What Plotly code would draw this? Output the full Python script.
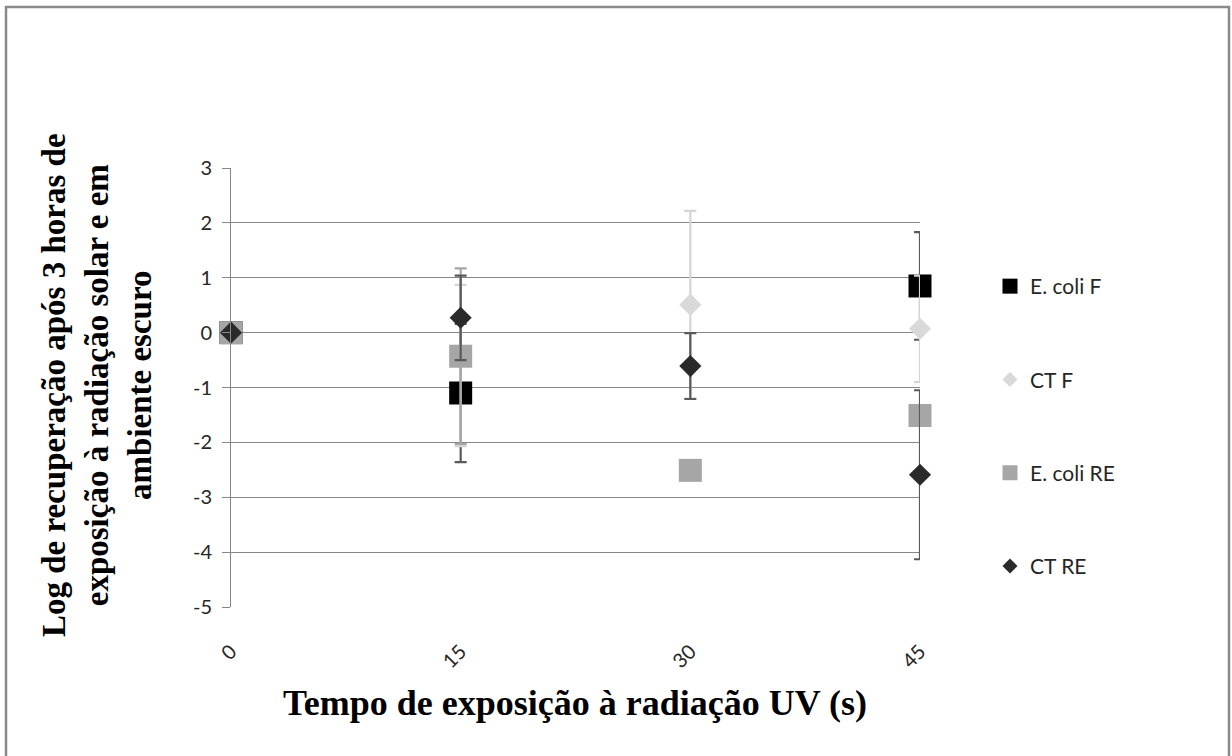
import plotly.graph_objects as go

# ---------------- data ----------------
times = [0, 15, 30, 45]
x_tick_labels = ["0", "15", "30", "45"]
y_tick_vals = [3, 2, 1, 0, -1, -2, -3, -4, -5]
y_tick_labels = ["3", "2", "1", "0", "-1", "-2", "-3", "-4", "-5"]

series_names = ["E. coli F", "CT F", "E. coli RE", "CT RE"]

ecoli_f = [0, -1.10, None, 0.85]
ecoli_f_err = [0, 1.26, 0, 0.98]

ct_f = [0, -0.43, 0.51, 0.07]
ct_f_err_plus = [0, 1.30, 1.71, 0.97]
ct_f_err_minus = [0, 1.64, 1.71, 0.97]

ecoli_re = [0, -0.43, -2.51, -1.51]
ecoli_re_err = [0, 1.60, 0, 0]

ct_re = [0, 0.27, -0.61, -2.59]
ct_re_err = [0, 0.77, 0.60, 1.54]

x_title = "Tempo de exposição à radiação UV (s)"
y_title_lines = ["Log de recuperação após 3 horas de",
                 "exposição à radiação solar e em",
                 "ambiente escuro"]

# ---------------- layout geometry (pixels) ----------------
W, H = 1232, 756
L, R, T, B = 231, 920, 168, 607


def px_x(p):
    return (p - L) / (R - L)


def px_y(p):
    return (B - p) / (B - T)


fig = go.Figure()

styles = [
    dict(symbol="square", color="#000000", size=23, err="#5a5a5a", lsize=15),
    dict(symbol="diamond", color="#d9d9d9", size=17, err="#d4d4d4", lsize=11.5),
    dict(symbol="square", color="#a6a6a6", size=23, err="#a6a6a6", lsize=15),
    dict(symbol="diamond", color="#2a2a2a", size=17, err="#5a5a5a", lsize=11.5),
]

err_defs = [
    dict(type="data", array=ecoli_f_err, symmetric=True),
    dict(type="data", array=ct_f_err_plus, arrayminus=ct_f_err_minus, symmetric=False),
    dict(type="data", array=ecoli_re_err, symmetric=True),
    dict(type="data", array=ct_re_err, symmetric=True),
]
values = [ecoli_f, ct_f, ecoli_re, ct_re]

for name, vals, st, ed in zip(series_names, values, styles, err_defs):
    ed = dict(ed)
    ed.update(color=st["err"], thickness=2.2, width=6, visible=True)
    fig.add_trace(go.Scatter(
        x=times, y=vals, mode="markers", name=name, showlegend=False,
        marker=dict(symbol=st["symbol"], color=st["color"], size=st["size"],
                    line=dict(width=0)),
        error_y=ed, cliponaxis=False,
    ))

# legend entries
for i, (name, st) in enumerate(zip(series_names, styles)):
    fig.add_trace(go.Scatter(
        x=[None], y=[None], mode="markers", name=name, legendgroup=f"g{i}",
        marker=dict(symbol=st["symbol"], color=st["color"], size=st["lsize"],
                    line=dict(width=0)),
    ))

grid = "#878787"
tick_font = dict(family="Lato", size=20, color="#262626")

fig.update_layout(
    width=W, height=H,
    margin=dict(l=L, r=W - R, t=T, b=H - B, pad=0),
    paper_bgcolor="white", plot_bgcolor="white",
    font=dict(family="Lato, 'Open Sans', sans-serif", color="#262626"),
    showlegend=True,
    legend=dict(
        xref="container", yref="container",
        x=990 / W, y=1 - 266 / H, xanchor="left", yanchor="top",
        font=dict(family="Lato", size=21, color="#262626"),
        tracegroupgap=63, itemsizing="trace", bgcolor="rgba(0,0,0,0)",
    ),
    xaxis=dict(
        range=[0, 45], tickmode="array", tickvals=times, ticktext=x_tick_labels,
        showgrid=False, zeroline=False, showline=False, ticks="",
        tickangle=-45, tickfont=tick_font,
        ticklabelstandoff=28,
    ),
    yaxis=dict(
        range=[-5, 3], tickmode="array", tickvals=y_tick_vals, ticktext=y_tick_labels,
        showgrid=True, gridcolor=grid, gridwidth=1,
        zeroline=True, zerolinecolor=grid, zerolinewidth=1,
        showline=True, linecolor=grid, linewidth=1,
        ticks="outside", ticklen=8, tickcolor=grid, tickwidth=1,
        tickfont=tick_font,
        ticklabelstandoff=6,
    ),
    annotations=[
        dict(text="<b>" + x_title + "</b>", xref="paper", yref="paper",
             x=px_x(575), y=px_y(703), xanchor="center", yanchor="middle",
             showarrow=False,
             font=dict(family="Liberation Serif", size=36, color="#000000"),
             ),
        dict(text="<b>" + "<br>".join(y_title_lines) + "</b>", xref="paper", yref="paper",
             x=px_x(97), y=px_y(385), xanchor="center", yanchor="middle",
             showarrow=False, textangle=-90,
             font=dict(family="Liberation Serif", size=33, color="#000000"),
             ),
    ],
    shapes=[
        dict(type="rect", xref="paper", yref="paper",
             x0=px_x(6), x1=px_x(1229), y0=px_y(765), y1=px_y(7),
             line=dict(color="#8a8a8a", width=2.5), fillcolor="rgba(0,0,0,0)",
             layer="below"),
    ],
)

fig.write_html("out.html")
